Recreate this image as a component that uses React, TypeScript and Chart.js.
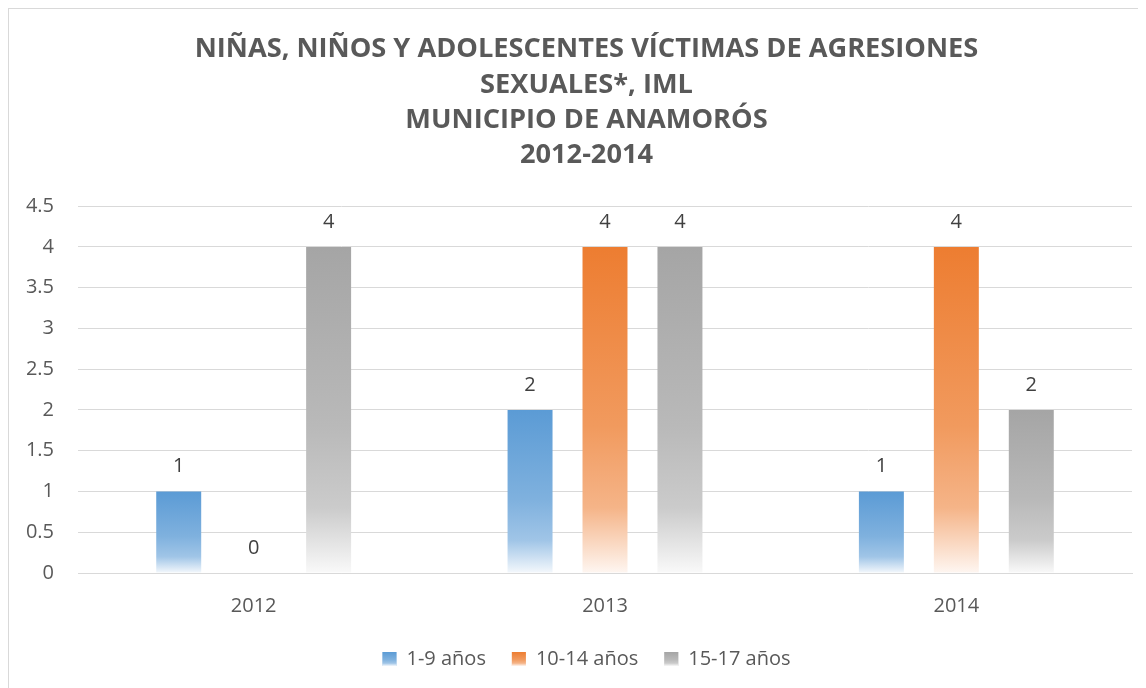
import React, { useEffect, useRef } from "react";
import { Chart, registerables } from "chart.js";

Chart.register(...registerables);

const titleLines = [
  "NIÑAS, NIÑOS Y ADOLESCENTES VÍCTIMAS DE AGRESIONES",
  "SEXUALES*, IML",
  "MUNICIPIO DE ANAMORÓS",
  "2012-2014",
];
const categories = ["2012", "2013", "2014"];
const seriesNames = ["1-9 años", "10-14 años", "15-17 años"];
const values19 = [1, 2, 1];
const values1014 = [0, 4, 4];
const values1517 = [4, 4, 2];
const baseColors = ["#5b9bd5", "#ed7d31", "#a5a5a5"];
const yMax = 4.5;
const yStep = 0.5;

const FONT = "'Open Sans', 'DejaVu Sans', sans-serif";
const CANVAS_W = 1155;
const CANVAS_H = 679;

function mix(hex: string, t: number): string {
  const n = parseInt(hex.slice(1), 16);
  const r = (n >> 16) & 255, g = (n >> 8) & 255, b = n & 255;
  const m = (c: number) => Math.round(c + (255 - c) * t);
  return `rgb(${m(r)},${m(g)},${m(b)})`;
}

function makeGradient(c2d: CanvasRenderingContext2D, color: string, top: number, bottom: number) {
  const g = c2d.createLinearGradient(0, top, 0, bottom);
  g.addColorStop(0, color);
  g.addColorStop(0.55, mix(color, 0.22));
  g.addColorStop(0.8, mix(color, 0.42));
  g.addColorStop(1, mix(color, 0.93));
  return g;
}

function barGradient(color: string) {
  return (ctx: any) => {
    if (ctx.type !== "data") return color;
    const chart = ctx.chart;
    const y = chart.scales?.y;
    if (!y || !chart.chartArea) return color;
    const top = y.getPixelForValue(ctx.raw);
    const bottom = y.getPixelForValue(0);
    if (!isFinite(top) || !isFinite(bottom) || bottom - top < 1) return color;
    return makeGradient(chart.ctx, color, top, bottom);
  };
}

const valueLabels = {
  id: "valueLabels",
  afterDatasetsDraw(chart: any) {
    const ctx = chart.ctx;
    ctx.save();
    ctx.font = `20px ${FONT}`;
    ctx.fillStyle = "#404040";
    ctx.textAlign = "center";
    ctx.textBaseline = "middle";
    chart.data.datasets.forEach((ds: any, i: number) => {
      const meta = chart.getDatasetMeta(i);
      meta.data.forEach((el: any, j: number) => {
        ctx.fillText(String(ds.data[j]), el.x, el.y - 25);
      });
    });
    ctx.restore();
  },
};

const legendGradientBoxes = {
  id: "legendGradientBoxes",
  afterDraw(chart: any) {
    const lg = chart.legend;
    if (!lg || !lg.legendHitBoxes) return;
    const ctx = chart.ctx;
    const bw = 14, bh = 14;
    lg.legendHitBoxes.forEach((hb: any, i: number) => {
      const y0 = hb.top + (hb.height - bh) / 2;
      ctx.save();
      ctx.fillStyle = "#ffffff";
      ctx.fillRect(hb.left, y0, bw, bh);
      ctx.fillStyle = makeGradient(ctx, baseColors[i], y0, y0 + bh);
      ctx.fillRect(hb.left, y0, bw, bh);
      ctx.restore();
    });
  },
};

export default function App() {
  const ref = useRef<HTMLCanvasElement | null>(null);
  useEffect(() => {
    document.body.style.overflow = "hidden";
    const seriesData = [values19, values1014, values1517];
    const chart = new Chart(ref.current as HTMLCanvasElement, {
      type: "bar",
      data: {
        labels: categories,
        datasets: seriesNames.map((name, i) => ({
          label: name,
          data: seriesData[i],
          backgroundColor: barGradient(baseColors[i]) as any,
          borderWidth: 0,
          categoryPercentage: 0.64,
          barPercentage: 0.6,
          yAxisID: "y",
        })),
      },
      options: {
        animation: false,
        responsive: false,
        maintainAspectRatio: false,
        layout: { padding: { left: 0, right: 0, top: 0, bottom: 9 } },
        scales: {
          x: {
            grid: { display: false, drawTicks: false },
            border: { display: true, color: "#d9d9d9", width: 1 },
            ticks: { color: "#595959", font: { family: FONT, size: 20 }, padding: 21 },
            afterFit: (s: any) => { s.height = 50; },
          },
          y: {
            min: 0,
            max: yMax,
            ticks: {
              stepSize: yStep,
              color: "#595959",
              font: { family: FONT, size: 20 },
              padding: 24,
              callback: (v: any) => String(Number(v)),
            },
            grid: { color: "#d9d9d9", drawTicks: false },
            border: { display: false },
            afterFit: (s: any) => { s.width = 69; },
          },
          ySpacer: {
            type: "linear",
            position: "right",
            display: true,
            min: 0,
            max: 1,
            grid: { display: false, drawTicks: false },
            border: { display: false },
            ticks: { display: false },
            afterFit: (s: any) => { s.width = 32; },
          },
        },
        plugins: {
          title: {
            display: true,
            text: titleLines,
            color: "#595959",
            font: { family: FONT, size: 27.2, weight: "bold", lineHeight: 35.3 / 27.2 },
            padding: { top: 23, bottom: 33 },
          },
          legend: {
            position: "bottom",
            labels: {
              boxWidth: 14,
              boxHeight: 14,
              padding: 26,
              color: "#595959",
              font: { family: FONT, size: 20 },
              generateLabels: () =>
                seriesNames.map((n, i) => ({
                  text: n,
                  fillStyle: baseColors[i],
                  strokeStyle: baseColors[i],
                  lineWidth: 0,
                  fontColor: "#595959",
                  datasetIndex: i,
                  hidden: false,
                })),
            },
          },
          tooltip: { enabled: false },
        },
      },
      plugins: [valueLabels, legendGradientBoxes],
    });
    return () => chart.destroy();
  }, []);
  return (
    <div
      style={{
        borderLeft: "1px solid #d9d9d9",
        borderTop: "1px solid #d9d9d9",
        width: 1137,
        height: CANVAS_H,
        overflow: "hidden",
        boxSizing: "content-box",
      }}
    >
      <canvas ref={ref} width={CANVAS_W} height={CANVAS_H} style={{ display: "block" }} />
    </div>
  );
}
